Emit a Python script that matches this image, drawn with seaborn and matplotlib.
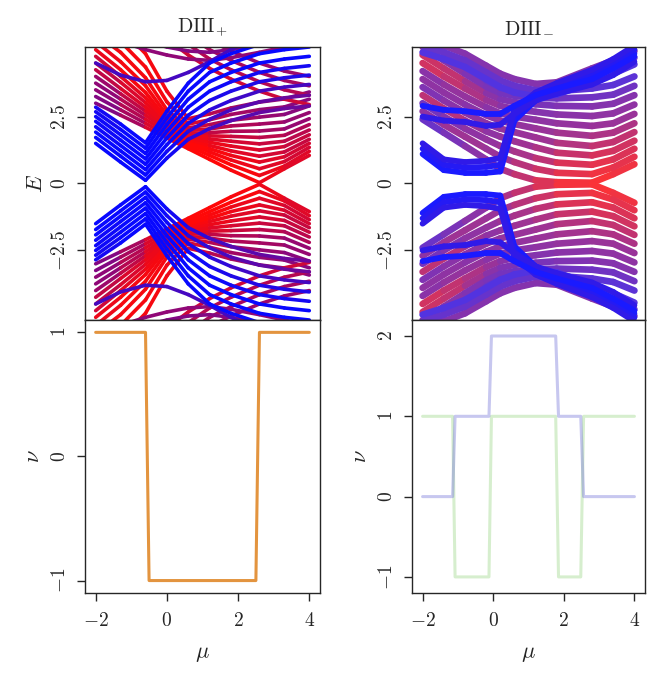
import numpy as np
import matplotlib
matplotlib.use("Agg")
import matplotlib.pyplot as plt
from matplotlib.collections import LineCollection
import seaborn as sns
import pandas as pd

# ---- band data, DIII+ (positive energies, spectrum is E -> -E symmetric)
MU_A = [-2.0, -1.3, -0.6, 0.0, 0.6, 1.2, 1.8, 2.6, 3.3, 4.0]

blue_a = [
    [1.50, 0.80, 0.12, 0.95, 1.65, 2.05, 2.35, 2.65, 2.80, 2.90],
    [1.72, 1.02, 0.32, 1.20, 1.95, 2.40, 2.75, 3.05, 3.20, 3.30],
    [1.92, 1.22, 0.52, 1.45, 2.25, 2.75, 3.10, 3.45, 3.60, 3.70],
    [2.12, 1.42, 0.72, 1.70, 2.55, 3.10, 3.45, 3.80, 3.95, 4.05],
    [2.32, 1.62, 0.92, 1.95, 2.85, 3.45, 3.80, 4.15, 4.30, 4.40],
    [2.50, 1.82, 1.12, 2.20, 3.15, 3.80, 4.15, 4.50, 4.65, 4.75],
    [2.68, 2.02, 1.32, 2.45, 3.45, 4.15, 4.50, 4.85, 5.00, 5.10],
    [2.85, 2.22, 1.52, 2.70, 3.75, 4.50, 4.85, 5.20, 5.35, 5.45],
]
blue_a_w = [
    [1.0, 1.0, 1.0, 1.0, 0.9, 0.8, 0.7, 0.65, 0.6, 0.6],
    [1.0, 1.0, 1.0, 1.0, 0.9, 0.8, 0.7, 0.65, 0.6, 0.6],
    [1.0, 1.0, 1.0, 1.0, 0.95, 0.9, 0.8, 0.75, 0.75, 0.75],
    [0.95, 1.0, 1.0, 1.0, 1.0, 0.95, 0.9, 0.9, 0.9, 0.9],
    [0.95, 1.0, 1.0, 1.0, 1.0, 1.0, 0.95, 0.95, 0.95, 0.95],
    [0.95, 1.0, 1.0, 1.0, 1.0, 1.0, 1.0, 1.0, 1.0, 1.0],
    [0.9, 1.0, 1.0, 1.0, 1.0, 1.0, 1.0, 1.0, 1.0, 1.0],
    [0.9, 1.0, 1.0, 1.0, 1.0, 1.0, 1.0, 1.0, 1.0, 1.0],
]

red_a = [
    [3.00, 2.55, 2.10, 1.70, 1.30, 0.90, 0.50, 0.03, 0.55, 1.05],
    [3.25, 2.75, 2.25, 1.80, 1.40, 1.05, 0.70, 0.30, 0.65, 1.20],
    [3.50, 2.95, 2.40, 1.90, 1.50, 1.18, 0.88, 0.55, 0.82, 1.35],
    [3.75, 3.15, 2.55, 2.00, 1.58, 1.30, 1.05, 0.80, 1.00, 1.50],
    [4.00, 3.35, 2.70, 2.08, 1.65, 1.42, 1.22, 1.02, 1.18, 1.65],
    [4.25, 3.55, 2.85, 2.15, 1.72, 1.54, 1.40, 1.25, 1.38, 1.82],
    [4.50, 3.78, 3.02, 2.22, 1.78, 1.66, 1.58, 1.48, 1.58, 2.00],
    [4.75, 4.00, 3.20, 2.30, 1.84, 1.78, 1.76, 1.72, 1.80, 2.20],
    [5.00, 4.25, 3.40, 2.40, 1.90, 1.90, 1.95, 1.96, 2.04, 2.42],
    [5.30, 4.55, 3.65, 2.55, 1.98, 2.04, 2.15, 2.22, 2.30, 2.65],
    [5.60, 4.90, 3.95, 2.75, 2.08, 2.20, 2.36, 2.48, 2.58, 2.90],
    [6.00, 5.30, 4.35, 3.05, 2.22, 2.38, 2.58, 2.76, 2.86, 3.15],
    [6.50, 5.80, 4.85, 3.45, 2.42, 2.60, 2.82, 3.04, 3.16, 3.42],
]
red_a_w = [
    [0.55, 0.45, 0.25, 0.05, 0.0, 0.0, 0.0, 0.05, 0.1, 0.15],
    [0.55, 0.45, 0.25, 0.05, 0.0, 0.0, 0.0, 0.05, 0.1, 0.15],
    [0.5, 0.4, 0.2, 0.05, 0.0, 0.0, 0.05, 0.1, 0.15, 0.2],
    [0.5, 0.4, 0.2, 0.05, 0.0, 0.0, 0.05, 0.1, 0.15, 0.2],
    [0.45, 0.35, 0.15, 0.05, 0.0, 0.05, 0.1, 0.15, 0.2, 0.25],
    [0.3, 0.2, 0.1, 0.05, 0.05, 0.05, 0.1, 0.15, 0.2, 0.25],
    [0.3, 0.2, 0.1, 0.05, 0.05, 0.1, 0.15, 0.2, 0.25, 0.3],
    [0.25, 0.15, 0.05, 0.05, 0.05, 0.1, 0.2, 0.25, 0.3, 0.35],
    [0.1, 0.05, 0.02, 0.05, 0.1, 0.2, 0.3, 0.35, 0.4, 0.45],
    [0.1, 0.05, 0.02, 0.05, 0.1, 0.2, 0.3, 0.35, 0.4, 0.45],
    [0.05, 0.05, 0.02, 0.05, 0.1, 0.25, 0.35, 0.4, 0.45, 0.5],
    [0.05, 0.05, 0.02, 0.05, 0.1, 0.25, 0.35, 0.4, 0.45, 0.5],
    [0.05, 0.05, 0.02, 0.05, 0.1, 0.25, 0.35, 0.4, 0.45, 0.5],
]

upper_a = [
    [7.0, 6.5, 6.0, 5.4, 4.8, 4.3, 3.9, 3.45, 3.15, 2.95],
    [7.5, 7.0, 6.4, 5.8, 5.2, 4.65, 4.25, 3.8, 3.5, 3.3],
    [8.0, 7.5, 6.9, 6.2, 5.55, 5.0, 4.6, 4.15, 3.85, 3.65],
    [8.5, 8.0, 7.4, 6.6, 5.9, 5.35, 4.95, 4.5, 4.2, 4.0],
    [5.6, 5.3, 5.0, 4.8, 4.65, 4.6, 4.7, 4.9, 5.1, 5.3],
    [5.9, 5.6, 5.3, 5.1, 4.95, 4.9, 5.0, 5.2, 5.4, 5.6],
    [4.5, 4.05, 3.80, 3.85, 4.15, 4.55, 5.0, 5.5, 6.0, 6.5],
]
upper_a_w = [0.2, 0.3, 0.35, 0.4, 0.45, 0.5, 0.75]

# ---- band data, DIII-
MU_B = [-2.0, -1.4, -0.8, -0.2, 0.2, 0.6, 1.2, 1.8, 2.8, 3.4, 4.0]

fan_b = [
    [2.40, 1.90, 1.40, 0.90, 0.55, 0.35, 0.12, 0.05, 0.03, 0.35, 0.72],
    [2.70, 2.20, 1.75, 1.30, 1.00, 0.80, 0.55, 0.40, 0.35, 0.60, 1.00],
    [3.00, 2.50, 2.05, 1.65, 1.40, 1.20, 0.95, 0.78, 0.70, 0.90, 1.30],
    [3.30, 2.80, 2.35, 1.95, 1.75, 1.58, 1.35, 1.15, 1.05, 1.22, 1.60],
    [3.60, 3.10, 2.65, 2.25, 2.05, 1.92, 1.72, 1.52, 1.40, 1.55, 1.92],
    [3.90, 3.40, 2.95, 2.55, 2.35, 2.22, 2.06, 1.90, 1.78, 1.90, 2.25],
    [4.20, 3.70, 3.25, 2.85, 2.62, 2.50, 2.38, 2.25, 2.15, 2.25, 2.60],
    [4.50, 4.00, 3.55, 3.12, 2.90, 2.78, 2.68, 2.58, 2.52, 2.62, 2.95],
    [4.80, 4.30, 3.82, 3.38, 3.15, 3.04, 2.96, 2.90, 2.88, 2.98, 3.30],
    [5.10, 4.60, 4.10, 3.62, 3.38, 3.28, 3.20, 3.18, 3.22, 3.32, 3.65],
    [5.40, 4.90, 4.40, 3.85, 3.58, 3.48, 3.42, 3.45, 3.55, 3.68, 4.00],
]
fan_b_w = [
    [0.75, 0.7, 0.6, 0.55, 0.45, 0.35, 0.25, 0.1, 0.0, 0.05, 0.1],
    [0.6, 0.5, 0.45, 0.5, 0.5, 0.4, 0.3, 0.2, 0.05, 0.1, 0.15],
    [0.7, 0.65, 0.55, 0.55, 0.5, 0.45, 0.4, 0.25, 0.1, 0.15, 0.2],
    [0.35, 0.3, 0.4, 0.55, 0.55, 0.5, 0.45, 0.35, 0.2, 0.2, 0.25],
    [0.65, 0.6, 0.55, 0.55, 0.55, 0.5, 0.5, 0.45, 0.3, 0.3, 0.3],
    [0.55, 0.55, 0.55, 0.6, 0.55, 0.55, 0.5, 0.5, 0.4, 0.4, 0.4],
    [0.6, 0.55, 0.5, 0.55, 0.6, 0.6, 0.55, 0.55, 0.5, 0.5, 0.5],
    [0.2, 0.25, 0.35, 0.45, 0.55, 0.6, 0.6, 0.6, 0.55, 0.55, 0.55],
    [0.25, 0.25, 0.35, 0.55, 0.6, 0.65, 0.65, 0.65, 0.6, 0.6, 0.6],
    [0.55, 0.55, 0.6, 0.65, 0.65, 0.7, 0.7, 0.7, 0.7, 0.7, 0.7],
    [0.6, 0.65, 0.65, 0.7, 0.75, 0.75, 0.75, 0.8, 0.8, 0.8, 0.8],
]

top_b = [
    [5.40, 5.15, 4.85, 4.40, 4.10, 3.90, 3.72, 3.78, 4.30, 4.60, 4.95],
    [5.15, 4.90, 4.60, 4.15, 3.85, 3.65, 3.48, 3.55, 4.05, 4.35, 4.70],
    [4.90, 4.65, 4.35, 3.90, 3.60, 3.40, 3.25, 3.32, 3.80, 4.10, 4.45],
]
top_b_w = [0.6, 0.75, 0.85]

blue_b = [
    [1.10, 0.50, 0.40, 0.40, 0.45, 2.35, 3.10, 3.45, 3.95, 4.35, 4.85],
    [1.30, 0.70, 0.60, 0.62, 0.70, 2.55, 3.25, 3.60, 4.10, 4.50, 5.00],
    [1.50, 0.90, 0.80, 0.85, 0.95, 2.75, 3.40, 3.75, 4.25, 4.65, 5.15],
    [2.50, 2.35, 2.30, 2.15, 2.20, 2.60, 3.10, 3.35, 3.70, 4.05, 4.55],
    [2.90, 2.75, 2.70, 2.60, 2.60, 2.90, 3.30, 3.55, 3.90, 4.30, 4.75],
]
blue_b_w = [1.0, 0.95, 0.9, 0.9, 1.0]

# ---- winding numbers
mu_plus = [-2.0, -0.6, -0.5, 2.5, 2.6, 4.0]
nu_plus = [1, 1, -1, -1, 1, 1]
mu_minus = [-2.0, -1.15, -1.08, -0.12, -0.05, 1.77, 1.85, 2.48, 2.56, 4.0]
nu_minus_a = [0, 0, 1, 1, 2, 2, 1, 1, 0, 0]
nu_minus_b = [1, 1, -1, -1, 1, 1, -1, -1, 1, 1]

sns.set_style("ticks")
plt.rcParams["mathtext.fontset"] = "cm"
plt.rcParams["font.family"] = ["DejaVu Serif"]
plt.rcParams["axes.linewidth"] = 1.0


def rb(w, fade):
    # red -> blue, washed towards white by `fade`
    return (fade + (1 - fade) * (1 - w), fade, fade + (1 - fade) * w)


def draw_bands(ax, mu, bands, weights, lw, fade):
    for E, w in zip(bands, weights):
        if np.isscalar(w):
            w = [w] * len(E)
        for sign in (1, -1):
            pts = np.column_stack([mu, sign * np.array(E)])
            segs = np.stack([pts[:-1], pts[1:]], axis=1)
            cols = [rb(0.5 * (w[i] + w[i + 1]), fade) for i in range(len(E) - 1)]
            lc = LineCollection(segs, colors=cols, linewidths=lw,
                                capstyle="round", joinstyle="round")
            ax.add_collection(lc)


fig = plt.figure(figsize=(6.64, 6.79), dpi=100)
axL_top = fig.add_axes([0.128, 0.5287, 0.3539, 0.4021])
axL_bot = fig.add_axes([0.128, 0.1267, 0.3539, 0.4021])
axR_top = fig.add_axes([0.6205, 0.5287, 0.3509, 0.4021])
axR_bot = fig.add_axes([0.6205, 0.1267, 0.3509, 0.4021])

draw_bands(axL_top, MU_A, red_a, red_a_w, 2.6, 0.03)
draw_bands(axL_top, MU_A, upper_a, upper_a_w, 2.6, 0.03)
draw_bands(axL_top, MU_A, blue_a, blue_a_w, 2.6, 0.03)

draw_bands(axR_top, MU_B, fan_b, fan_b_w, 4.8, 0.2)
draw_bands(axR_top, MU_B, top_b, top_b_w, 4.8, 0.2)
draw_bands(axR_top, MU_B, blue_b, blue_b_w, 4.2, 0.1)

for ax, title in [(axL_top, r"$\mathrm{DIII}_{+}$"), (axR_top, r"$\mathrm{DIII}_{-}$")]:
    ax.set_xlim(-2.3, 4.3)
    ax.set_ylim(-5.1, 5.1)
    ax.set_yticks([-2.5, 0, 2.5], labels=[r"$-2.5$", r"$0$", r"$2.5$"])
    ax.tick_params(axis="x", bottom=False, labelbottom=False)
    ax.set_title(title, fontsize=14.5, pad=11)
axL_top.set_ylabel(r"$E$", fontsize=16, labelpad=3)

df_plus = pd.DataFrame({"mu": mu_plus, "nu": nu_plus})
df_minus = pd.DataFrame({"mu": mu_minus, "a": nu_minus_a, "b": nu_minus_b})
sns.lineplot(data=df_plus, x="mu", y="nu", ax=axL_bot, color="#e3943f",
             lw=2.2, estimator=None, sort=False)
sns.lineplot(data=df_minus, x="mu", y="b", ax=axR_bot, color=(0.55, 0.82, 0.45),
             alpha=0.35, lw=2.2, estimator=None, sort=False)
sns.lineplot(data=df_minus, x="mu", y="a", ax=axR_bot, color=(0.45, 0.45, 0.85),
             alpha=0.4, lw=2.2, estimator=None, sort=False)

axL_bot.set_yticks([-1, 0, 1], labels=[r"$-1$", r"$0$", r"$1$"])
axR_bot.set_yticks([-1, 0, 1, 2], labels=[r"$-1$", r"$0$", r"$1$", r"$2$"])
for ax in (axL_bot, axR_bot):
    ax.set_xlim(-2.3, 4.3)
    ax.set_xticks([-2, 0, 2, 4], labels=[r"$-2$", r"$0$", r"$2$", r"$4$"])
    ax.set_xlabel(r"$\mu$", fontsize=16, labelpad=9)
    ax.set_ylabel(r"$\nu$", fontsize=16, labelpad=5)
axL_bot.set_ylim(-1.1, 1.1)
axR_bot.set_ylim(-1.2, 2.2)

for ax in (axL_top, axL_bot, axR_top, axR_bot):
    ax.tick_params(length=5.5, width=1.0, labelsize=14, direction="out")
    ax.tick_params(axis="x", pad=8)
    ax.tick_params(axis="y", pad=6)
    for lab in ax.get_yticklabels():
        lab.set_rotation(90)
        lab.set_va("center")
    for s in ax.spines.values():
        s.set_visible(True)
        s.set_linewidth(1.0)

fig.savefig("out.png", dpi=100)
